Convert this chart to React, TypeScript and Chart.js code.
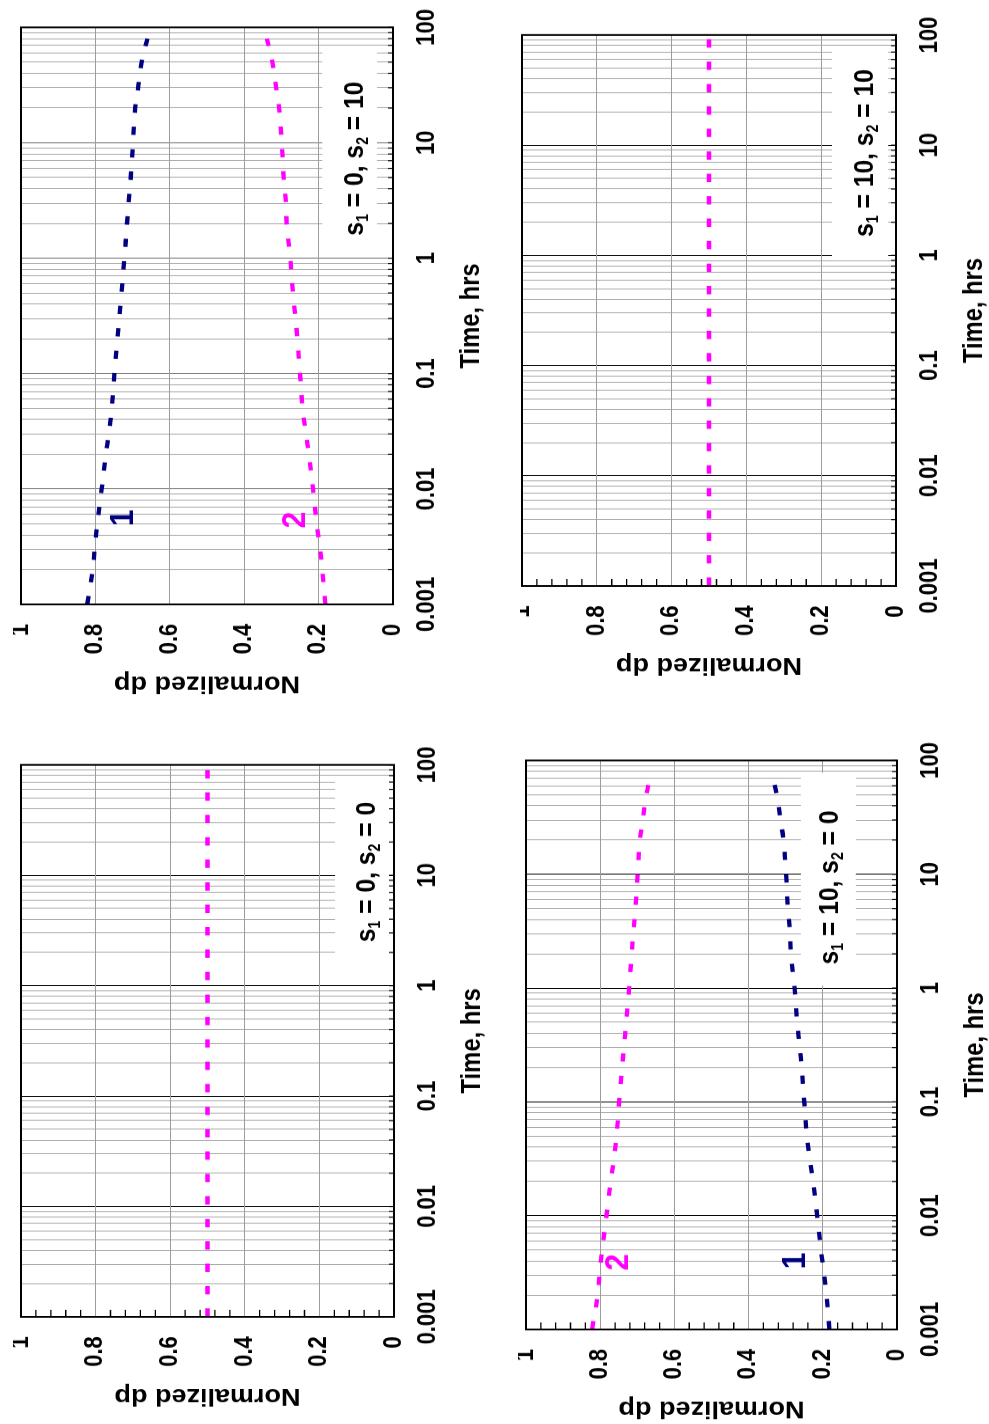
import React, { useEffect, useRef } from 'react';
import { Chart, registerables } from 'chart.js';

Chart.register(...registerables);

const FONT = "'Liberation Sans', Arial, Helvetica, sans-serif";
const NAVY = '#000080';
const MAGENTA = '#ff00ff';

// Time samples (hrs) for the unequal-skin cases
const timeHrs = [0.001, 0.002, 0.003, 0.005, 0.01, 0.02, 0.03, 0.05, 0.1, 0.2, 0.3, 0.5, 1, 2, 3, 5, 10, 20, 30, 50, 80];
// Normalized dp across the zero-skin side
const dpUpper = [0.822, 0.807, 0.802, 0.795, 0.783, 0.772, 0.764, 0.756, 0.749, 0.741, 0.736, 0.730, 0.722, 0.715, 0.711, 0.705, 0.699, 0.693, 0.685, 0.676, 0.660];
// Normalized dp across the skin-10 side
const dpLower = [0.182, 0.190, 0.196, 0.205, 0.215, 0.226, 0.234, 0.243, 0.250, 0.257, 0.262, 0.269, 0.276, 0.286, 0.288, 0.294, 0.299, 0.306, 0.314, 0.324, 0.339];
// Equal skins: the split stays at one half
const timeFlat = [0.001, 0.01, 0.1, 1, 10, 100];
const dpFlat = [0.5, 0.5, 0.5, 0.5, 0.5, 0.5];

// Axis ticks
const timeDecades = [0.001, 0.01, 0.1, 1, 10, 100];
const timeTickLabels = ['0.001', '0.01', '0.1', '1', '10', '100'];
const dpTickValues = [0, 0.2, 0.4, 0.6, 0.8, 1];
const dpTickLabels = ['0', '0.2', '0.4', '0.6', '0.8', '1'];

// every 1..9 x decade line of the log time axis
const timeGridValues: number[] = [];
for (let i = 0; i < timeDecades.length - 1; i++) {
  for (let m = 1; m <= 9; m++) timeGridValues.push(Number((m * timeDecades[i]).toPrecision(4)));
}
timeGridValues.push(timeDecades[timeDecades.length - 1]);

const isDecade = (v: number) => timeDecades.some((d) => Math.abs(d - v) / d < 1e-6);

// Layout of each rotated panel (page pixels); the charts are drawn upright then turned a quarter turn
const K = 0.88; // horizontal squeeze of the upright drawing
const AXIS_Y_W = 106;
const AXIS_X_H = 100;
const PAD_L = 4;
const PAD_R = 24;
const PAD_B = 4;

type Series = { t: number[]; dp: number[]; color: string };
type Tag = { text: string; color: string; t: number; dp: number };
type SkinNote = { s1: string; s2: string; t: number; dp: number; box: [number, number, number, number] };
type PanelCfg = {
  key: string;
  plot: { x0: number; x1: number; y0: number; y1: number };
  padTop: number;
  series: Series[];
  tags: Tag[];
  note: SkinNote;
  majorGrid: string;
  dpMinorTicks: boolean;
};

const panels: PanelCfg[] = [
  {
    key: 's1=0,s2=10',
    plot: { x0: 21, x1: 393, y0: 27, y1: 604 },
    padTop: 8,
    series: [
      { t: timeHrs, dp: dpUpper, color: NAVY },
      { t: timeHrs, dp: dpLower, color: MAGENTA },
    ],
    tags: [
      { text: '1', color: NAVY, t: 0.0056, dp: 0.724 },
      { text: '2', color: MAGENTA, t: 0.0054, dp: 0.261 },
    ],
    note: { s1: '0', s2: '10', t: 7.3, dp: 0.1075, box: [1.29, 64, 0.043, 0.19] },
    majorGrid: '#6e6e6e',
    dpMinorTicks: false,
  },
  {
    key: 's1=0,s2=0',
    plot: { x0: 21, x1: 394, y0: 765, y1: 1317 },
    padTop: 8,
    series: [{ t: timeFlat, dp: dpFlat, color: MAGENTA }],
    tags: [],
    note: { s1: '0', s2: '0', t: 10.7, dp: 0.078, box: [1.55, 75, 0.013, 0.158] },
    majorGrid: '#000000',
    dpMinorTicks: true,
  },
  {
    key: 's1=10,s2=10',
    plot: { x0: 522, x1: 896, y0: 35, y1: 586 },
    padTop: 2,
    series: [{ t: timeFlat, dp: dpFlat, color: MAGENTA }],
    tags: [],
    note: { s1: '10', s2: '10', t: 8.5, dp: 0.088, box: [0.9, 76, 0.021, 0.171] },
    majorGrid: '#000000',
    dpMinorTicks: true,
  },
  {
    key: 's1=10,s2=0',
    plot: { x0: 526, x1: 897, y0: 760, y1: 1329 },
    padTop: 8,
    series: [
      { t: timeHrs, dp: dpUpper, color: MAGENTA },
      { t: timeHrs, dp: dpLower, color: NAVY },
    ],
    tags: [
      { text: '2', color: MAGENTA, t: 0.0039, dp: 0.751 },
      { text: '1', color: NAVY, t: 0.004, dp: 0.274 },
    ],
    note: { s1: '10', s2: '0', t: 7.66, dp: 0.186, box: [1.05, 78, 0.111, 0.259] },
    majorGrid: '#000000',
    dpMinorTicks: true,
  },
];

function geometry(p: PanelCfg) {
  const plotH = p.plot.x1 - p.plot.x0;
  const plotW = (p.plot.y1 - p.plot.y0) / K;
  const width = Math.round(PAD_L + AXIS_Y_W + plotW + PAD_R);
  const padR = width - PAD_L - AXIS_Y_W - plotW;
  const height = p.padTop + plotH + AXIS_X_H + PAD_B;
  return {
    width,
    height,
    padR,
    left: p.plot.x0 - p.padTop,
    top: p.plot.y0 - K * padR,
  };
}

function drawSkinNote(ctx: CanvasRenderingContext2D, cx: number, cy: number, s1: string, s2: string) {
  const main = `bold 28px ${FONT}`;
  const sub = `bold 16px ${FONT}`;
  const runs: [string, string, number][] = [
    ['s', main, 0],
    ['1', sub, 5],
    [` = ${s1}, s`, main, 0],
    ['2', sub, 5],
    [` = ${s2}`, main, 0],
  ];
  let total = 0;
  const widths = runs.map(([txt, f]) => {
    ctx.font = f;
    const w = ctx.measureText(txt).width;
    total += w;
    return w;
  });
  let x = cx - total / 2;
  const base = cy + 10;
  ctx.fillStyle = '#000';
  ctx.textAlign = 'left';
  ctx.textBaseline = 'alphabetic';
  runs.forEach(([txt, f, off], i) => {
    ctx.font = f;
    ctx.fillText(txt, x, base + off);
    x += widths[i];
  });
}

function decorPlugin(p: PanelCfg) {
  return {
    id: 'panelDecor',
    beforeDatasetsDraw(chart: any) {
      const { ctx, chartArea: a } = chart;
      const xs = chart.scales.x;
      const ys = chart.scales.y;
      ctx.save();
      // white text box behind the skin values
      const [t0, t1, d0, d1] = p.note.box;
      const bx0 = xs.getPixelForValue(t0);
      const bx1 = xs.getPixelForValue(t1);
      const by0 = ys.getPixelForValue(d1);
      const by1 = ys.getPixelForValue(d0);
      ctx.fillStyle = '#ffffff';
      ctx.fillRect(bx0, by0, bx1 - bx0, by1 - by0);
      // inner tick marks on the time axis
      ctx.strokeStyle = '#000';
      ctx.lineWidth = 1.2;
      ctx.beginPath();
      for (const v of timeGridValues) {
        const px = xs.getPixelForValue(v);
        ctx.moveTo(px, a.bottom);
        ctx.lineTo(px, a.bottom - 5);
      }
      ctx.stroke();
      // inner minor ticks on the dp axis
      if (p.dpMinorTicks) {
        ctx.lineWidth = 1.3;
        ctx.beginPath();
        for (let k = 1; k < 25; k++) {
          if (k % 5 === 0) continue;
          const py = ys.getPixelForValue(k * 0.04);
          ctx.moveTo(a.left, py);
          ctx.lineTo(a.left + 8, py);
        }
        ctx.stroke();
      }
      ctx.restore();
    },
    afterDatasetsDraw(chart: any) {
      const { ctx, chartArea: a } = chart;
      const xs = chart.scales.x;
      const ys = chart.scales.y;
      ctx.save();
      ctx.strokeStyle = '#000';
      ctx.lineWidth = 2;
      ctx.strokeRect(a.left, a.top, a.right - a.left, a.bottom - a.top);
      // curve numbers
      ctx.font = `bold 34px ${FONT}`;
      ctx.textAlign = 'center';
      ctx.textBaseline = 'middle';
      for (const tg of p.tags) {
        ctx.fillStyle = tg.color;
        ctx.fillText(tg.text, xs.getPixelForValue(tg.t), ys.getPixelForValue(tg.dp));
      }
      drawSkinNote(ctx, xs.getPixelForValue(p.note.t), ys.getPixelForValue(p.note.dp), p.note.s1, p.note.s2);
      ctx.restore();
    },
  };
}

function Panel({ cfg }: { cfg: PanelCfg }) {
  const ref = useRef<HTMLCanvasElement>(null);
  const g = geometry(cfg);

  useEffect(() => {
    const canvas = ref.current;
    if (!canvas) return;
    const chart = new Chart(canvas, {
      type: 'scatter',
      data: {
        datasets: cfg.series.map((s, i) => ({
          label: `curve ${i + 1}`,
          data: s.t.map((t, j) => ({ x: t, y: s.dp[j] })),
          showLine: true,
          borderColor: s.color,
          backgroundColor: s.color,
          borderWidth: 4.3,
          borderDash: [9.5, 16],
          borderCapStyle: 'butt',
          pointRadius: 0,
          pointHoverRadius: 0,
          tension: 0.35,
        })),
      },
      options: {
        responsive: false,
        animation: false,
        events: [],
        layout: { padding: { left: PAD_L, right: g.padR, top: cfg.padTop, bottom: PAD_B } },
        plugins: { legend: { display: false }, tooltip: { enabled: false }, title: { display: false } },
        scales: {
          x: {
            type: 'logarithmic',
            position: 'bottom',
            min: 0.001,
            max: 100,
            afterBuildTicks: (scale: any) => {
              scale.ticks = timeGridValues.map((v) => ({ value: v, major: false }));
            },
            afterFit: (scale: any) => {
              scale.height = AXIS_X_H;
              scale.paddingLeft = 0;
              scale.paddingRight = 0;
              scale.paddingTop = 0;
              scale.paddingBottom = 0;
            },
            grid: {
              drawTicks: false,
              lineWidth: 1,
              color: (ctx: any) => (ctx.tick && isDecade(ctx.tick.value) ? cfg.majorGrid : '#a8a8a8'),
            },
            border: { display: false },
            ticks: {
              autoSkip: false,
              maxRotation: 0,
              minRotation: 0,
              padding: 19,
              color: '#000',
              font: { family: FONT, size: 25, weight: 'bold' },
              callback: (value: any) => {
                const i = timeDecades.findIndex((d) => Math.abs(d - Number(value)) / d < 1e-6);
                return i >= 0 ? timeTickLabels[i] : '';
              },
            },
            title: {
              display: true,
              text: 'Time, hrs',
              color: '#000',
              font: { family: FONT, size: 27, weight: 'bold' },
              padding: { top: 0, bottom: 5 },
            },
          },
          y: {
            type: 'linear',
            position: 'left',
            min: 0,
            max: 1,
            afterBuildTicks: (scale: any) => {
              scale.ticks = dpTickValues.map((v) => ({ value: v }));
            },
            afterFit: (scale: any) => {
              scale.width = AXIS_Y_W;
              scale.paddingLeft = 0;
              scale.paddingRight = 0;
              scale.paddingTop = 0;
              scale.paddingBottom = 0;
            },
            grid: { drawTicks: false, lineWidth: 1, color: '#9c9c9c' },
            border: { display: false },
            ticks: {
              padding: 22,
              color: '#000',
              font: { family: FONT, size: 25, weight: 'bold' },
              callback: (value: any) => {
                const i = dpTickValues.findIndex((d) => Math.abs(d - Number(value)) < 1e-6);
                return i >= 0 ? dpTickLabels[i] : '';
              },
            },
            title: {
              display: true,
              text: 'Normalized dp',
              color: '#000',
              font: { family: FONT, size: 27, weight: 'bold' },
              padding: { top: 0, bottom: 0 },
            },
          },
        },
      } as any,
      plugins: [decorPlugin(cfg) as any],
    });
    return () => chart.destroy();
  }, []);

  return (
    <canvas
      ref={ref}
      width={g.width}
      height={g.height}
      style={{
        position: 'absolute',
        left: g.left,
        top: g.top,
        transformOrigin: '0 0',
        transform: `translateY(${K * g.width}px) rotate(-90deg) scaleX(${K})`,
      }}
    />
  );
}

export default function App() {
  return (
    <div
      style={{
        position: 'absolute',
        left: 0,
        top: 0,
        width: 989,
        height: 1424,
        overflow: 'hidden',
        background: '#ffffff',
      }}
    >
      {panels.map((p) => (
        <Panel key={p.key} cfg={p} />
      ))}
    </div>
  );
}
